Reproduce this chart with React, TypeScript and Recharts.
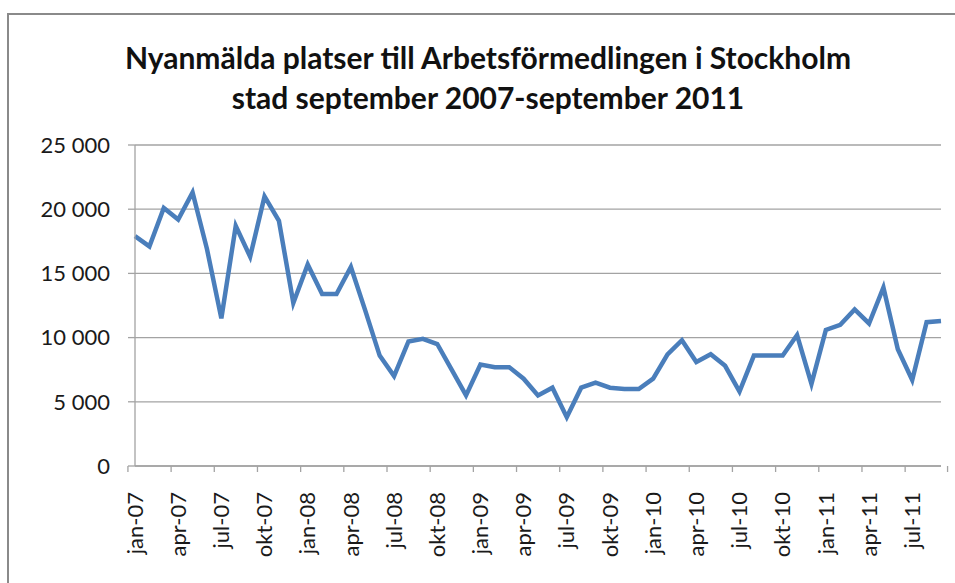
import { CartesianGrid, Line, LineChart, XAxis, YAxis } from 'recharts';

const CATEGORIES = [
    'jan-07', 'feb-07', 'mar-07', 'apr-07', 'maj-07', 'jun-07', 'jul-07', 'aug-07', 'sep-07', 'okt-07', 'nov-07', 'dec-07',
    'jan-08', 'feb-08', 'mar-08', 'apr-08', 'maj-08', 'jun-08', 'jul-08', 'aug-08', 'sep-08', 'okt-08', 'nov-08', 'dec-08',
    'jan-09', 'feb-09', 'mar-09', 'apr-09', 'maj-09', 'jun-09', 'jul-09', 'aug-09', 'sep-09', 'okt-09', 'nov-09', 'dec-09',
    'jan-10', 'feb-10', 'mar-10', 'apr-10', 'maj-10', 'jun-10', 'jul-10', 'aug-10', 'sep-10', 'okt-10', 'nov-10', 'dec-10',
    'jan-11', 'feb-11', 'mar-11', 'apr-11', 'maj-11', 'jun-11', 'jul-11', 'aug-11', 'sep-11',
];

// nyanmälda platser per månad
const PLATSER = [
    17900, 17100, 20100, 19200, 21300, 16900, 11500, 18700, 16300, 21000, 19100, 12700,
    15700, 13400, 13400, 15500, 12100, 8600, 7000, 9700, 9900, 9500, 7500, 5500,
    7900, 7700, 7700, 6800, 5500, 6100, 3800, 6100, 6500, 6100, 6000, 6000,
    6800, 8700, 9800, 8100, 8700, 7800, 5800, 8600, 8600, 8600, 10200, 6400,
    10600, 11000, 12200, 11100, 13900, 9100, 6700, 11200, 11300,
];

const Y_TICKS = [0, 5000, 10000, 15000, 20000, 25000];

const TITLE_LINES = [
    'Nyanmälda platser till Arbetsförmedlingen i Stockholm',
    'stad september 2007-september 2011',
];

const FONT = 'Lato, "Open Sans", sans-serif';
const GRID = '#a3a3a3';

const PLOT_LEFT = 135;
const PLOT_RIGHT = 941;
const BAND = (PLOT_RIGHT - PLOT_LEFT) / CATEGORIES.length;

const data = CATEGORIES.map((month, i) => ({ month, value: PLATSER[i] }));

const formatThousands = (v: number) =>
    v >= 1000 ? `${Math.floor(v / 1000)}\u00a0${String(v % 1000).padStart(3, '0')}` : String(v);

// tick marks sit between categories (Excel style), label in the middle
const MonthTick = (props: any) => {
    const { x, y, payload } = props;
    const idx = CATEGORIES.indexOf(payload.value);
    const left = x - BAND / 2;
    const isLast = idx + 3 >= CATEGORIES.length;
    return (
        <g>
            <line x1={left} x2={left} y1={y} y2={y + 6} stroke={GRID} strokeWidth={1.3} />
            {isLast && (
                <line x1={left + BAND * 3} x2={left + BAND * 3} y1={y} y2={y + 6} stroke={GRID} strokeWidth={1.3} />
            )}
            <text
                x={x}
                y={y + 26}
                dy="0.35em"
                textAnchor="end"
                transform={`rotate(-90, ${x}, ${y + 26})`}
                fontFamily={FONT}
                fontSize={22}
                fill="#1a1a1a"
            >
                {payload.value}
            </text>
        </g>
    );
};

export default function App() {
    return (
        <div style={{ position: 'absolute', left: 0, top: 0, width: 955, height: 583, overflow: 'hidden', background: '#fff' }}>
            <div
                style={{
                    position: 'absolute',
                    left: 7,
                    top: 13,
                    width: 1000,
                    height: 700,
                    border: '2px solid #8a8a8a',
                    boxSizing: 'border-box',
                }}
            />
            <div
                style={{
                    position: 'absolute',
                    left: 0,
                    top: 37,
                    width: 976,
                    textAlign: 'center',
                    fontFamily: FONT,
                    fontWeight: 700,
                    fontSize: 30,
                    lineHeight: '40px',
                    color: '#111',
                }}
            >
                {TITLE_LINES.map((t) => (
                    <div key={t}>{t}</div>
                ))}
            </div>
            <div style={{ position: 'absolute', left: 0, top: 0 }}>
                <LineChart width={955} height={583} data={data} margin={{ top: 145, right: 955 - PLOT_RIGHT, bottom: 0, left: 0 }}>
                    <CartesianGrid vertical={false} stroke={GRID} strokeWidth={1.3} />
                    <XAxis
                        dataKey="month"
                        interval={2}
                        height={117}
                        tickLine={false}
                        tickSize={0}
                        tickMargin={0}
                        tick={<MonthTick />}
                        axisLine={{ stroke: GRID, strokeWidth: 1.3 }}
                    />
                    <YAxis
                        width={PLOT_LEFT}
                        domain={[0, 25000]}
                        ticks={Y_TICKS}
                        tickFormatter={formatThousands}
                        tickSize={7}
                        tickMargin={18}
                        tickLine={{ stroke: GRID, strokeWidth: 1.3 }}
                        axisLine={{ stroke: GRID, strokeWidth: 1.3 }}
                        tick={{ fontFamily: FONT, fontSize: 22, fill: '#1a1a1a' }}
                    />
                    <Line
                        type="linear"
                        dataKey="value"
                        stroke="#4a7ebb"
                        strokeWidth={4.5}
                        dot={false}
                        isAnimationActive={false}
                    />
                </LineChart>
            </div>
        </div>
    );
}
